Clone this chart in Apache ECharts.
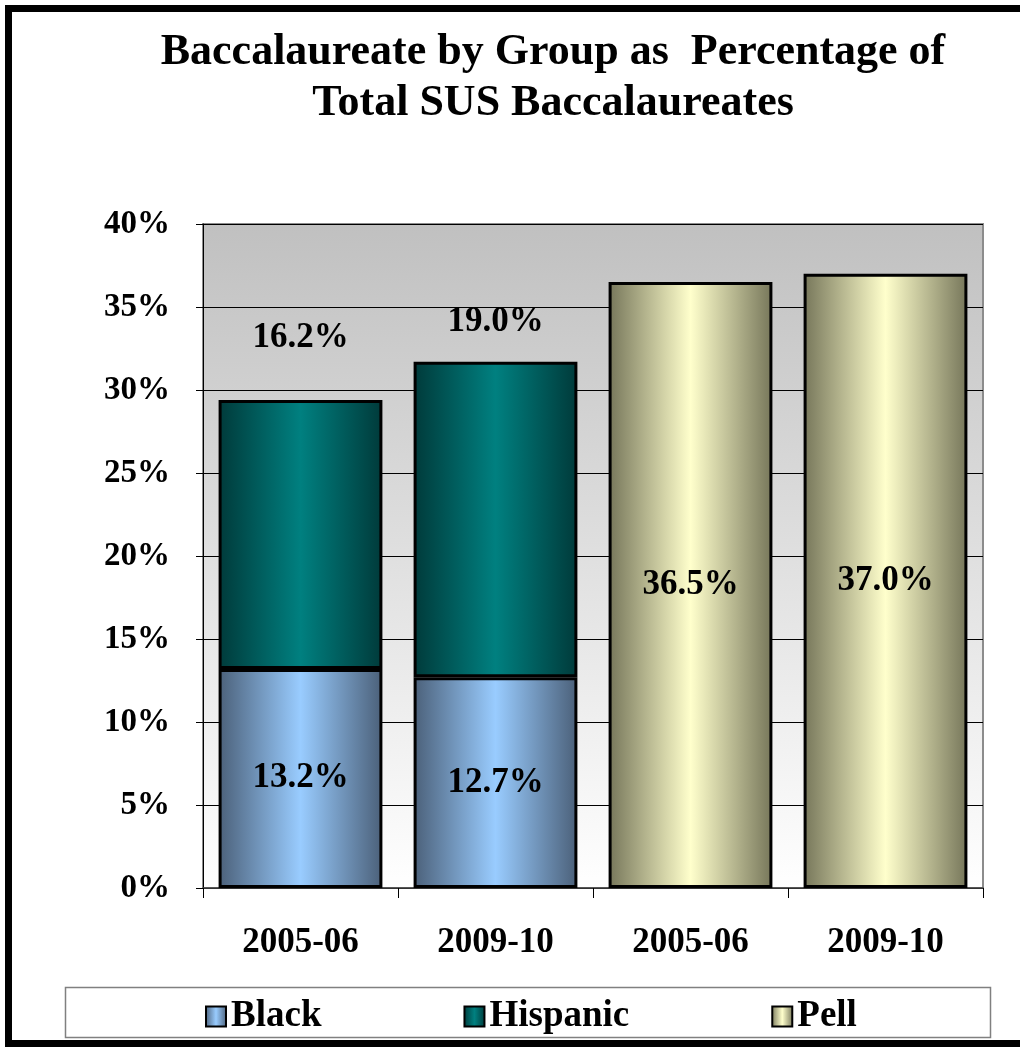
<!DOCTYPE html>
<html>
<head>
<meta charset="utf-8">
<script src="https://cdn.jsdelivr.net/npm/echarts@6/dist/echarts.min.js"></script>
<style>
html,body{margin:0;padding:0;background:#fff;}
#chart{width:1020px;height:1047px;}
</style>
</head>
<body>
<div id="chart"></div>
<script>
const categories = ['2005-06', '2009-10', '2005-06', '2009-10'];
const blackValues = [13.2, 12.7, '-', '-'];
const hispanicValues = [16.2, 19.0, '-', '-'];
const pellValues = ['-', '-', 36.5, 37.0];
const seriesNames = ['Black', 'Hispanic', 'Pell'];
const titleLines = ['Baccalaureate by Group as  Percentage of', 'Total SUS Baccalaureates'];
const yMin = 0, yMax = 40, yStep = 5;

// label lift (px) for the Hispanic labels, layout only
const hispanicLabelLift = [45, 22];

const FONT = '"Liberation Serif", "DejaVu Serif", serif';

function hGrad(edge, mid) {
  return new echarts.graphic.LinearGradient(0, 0, 1, 0, [
    {offset: 0, color: edge},
    {offset: 0.5, color: mid},
    {offset: 1, color: edge}
  ]);
}

const chart = echarts.init(document.getElementById('chart'), null, {renderer: 'canvas'});

const labelStyle = {
  show: true,
  fontFamily: FONT,
  fontWeight: 'bold',
  fontSize: 35,
  color: '#000',
  formatter: p => Number(p.value).toFixed(1) + '%'
};

const option = {
  backgroundColor: '#fff',
  animation: false,
  title: {
    text: titleLines.join('\n'),
    left: 548,
    textAlign: 'center',
    top: 22,
    textStyle: {fontFamily: FONT, fontWeight: 'bold', fontSize: 44, lineHeight: 51, color: '#000'}
  },
  graphic: [
    {type: 'rect', shape: {x: 8.5, y: 8.5, width: 1030, height: 1035}, style: {fill: 'none', stroke: '#000', lineWidth: 7}, z: 100},
    {type: 'rect', shape: {x: 65.5, y: 987.5, width: 925, height: 50}, style: {fill: '#fff', stroke: '#808080', lineWidth: 1.5}, z: 0}
  ],
  legend: {
    left: 200,
    top: 993,
    itemGap: 142,
    itemWidth: 20,
    itemHeight: 20,
    icon: 'rect',
    textStyle: {fontFamily: FONT, fontWeight: 'bold', fontSize: 37, color: '#000'},
    data: seriesNames
  },
  grid: {
    left: 203, right: 37, top: 224, bottom: 159,
    show: true,
    borderColor: '#8c8c8c',
    borderWidth: 2,
    backgroundColor: new echarts.graphic.LinearGradient(0, 0, 0, 1, [
      {offset: 0, color: '#c0c0c0'},
      {offset: 1, color: '#ffffff'}
    ])
  },
  xAxis: {
    type: 'category',
    data: categories,
    axisLine: {lineStyle: {color: '#444', width: 1.5}},
    axisTick: {show: true, interval: 0, length: 10, lineStyle: {color: '#000'}},
    axisLabel: {fontFamily: FONT, fontWeight: 'bold', fontSize: 35, color: '#000', margin: 37, interval: 0}
  },
  yAxis: {
    type: 'value',
    min: yMin, max: yMax, interval: yStep,
    axisLine: {show: true, lineStyle: {color: '#000', width: 1}},
    axisTick: {show: true, length: 7, lineStyle: {color: '#000'}},
    splitLine: {show: true, lineStyle: {color: '#000', width: 1}},
    axisLabel: {formatter: '{value}%', fontFamily: FONT, fontWeight: 'bold', fontSize: 33, color: '#000', margin: 33}
  },
  series: [
    {
      name: seriesNames[0], type: 'bar', stack: 'a', barWidth: '84%',
      data: blackValues,
      itemStyle: {color: hGrad('#4b6079', '#99ccff'), borderColor: '#000', borderWidth: 3},
      label: Object.assign({}, labelStyle, {position: 'inside'})
    },
    {
      name: seriesNames[1], type: 'bar', stack: 'a', barWidth: '84%',
      data: hispanicValues.map((v, i) => v === '-' ? v : {value: v, label: {distance: hispanicLabelLift[i]}}),
      itemStyle: {color: hGrad('#003a3a', '#008080'), borderColor: '#000', borderWidth: 3},
      label: Object.assign({}, labelStyle, {position: 'top'})
    },
    {
      name: seriesNames[2], type: 'bar', stack: 'a', barWidth: '84%',
      data: pellValues,
      itemStyle: {color: hGrad('#76765a', '#ffffcc'), borderColor: '#000', borderWidth: 3},
      label: Object.assign({}, labelStyle, {position: 'inside'})
    }
  ]
};
chart.setOption(option);
</script>
</body>
</html>
